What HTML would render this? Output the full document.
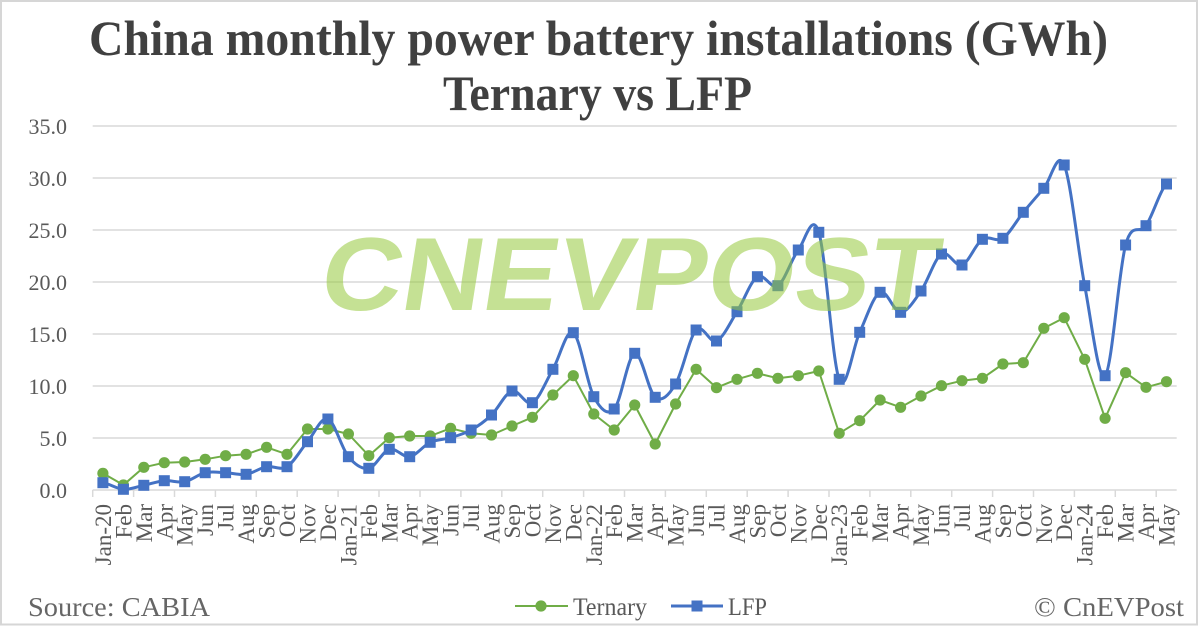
<!DOCTYPE html>
<html><head><meta charset="utf-8"><style>
html,body{margin:0;padding:0;background:#fff;}
svg{display:block;}
</style></head><body>
<svg width="1200" height="628" viewBox="0 0 1200 628" xmlns="http://www.w3.org/2000/svg">
<rect x="0" y="0" width="1200" height="628" fill="#fff"/>
<rect x="1" y="1" width="1196" height="623.5" fill="none" stroke="#d6d6d6" stroke-width="2"/>
<g font-family="'Liberation Serif', serif" font-weight="bold" fill="#404040" font-size="50">
<text x="89" y="55" textLength="1019" lengthAdjust="spacingAndGlyphs">China monthly power battery installations (GWh)</text>
<text x="443" y="110" textLength="309" lengthAdjust="spacingAndGlyphs">Ternary vs LFP</text>
</g>
<g stroke="#d9d9d9" stroke-width="1.5">
<line x1="92.7" y1="126" x2="1176.7" y2="126"/>
<line x1="92.7" y1="178" x2="1176.7" y2="178"/>
<line x1="92.7" y1="230" x2="1176.7" y2="230"/>
<line x1="92.7" y1="282" x2="1176.7" y2="282"/>
<line x1="92.7" y1="334" x2="1176.7" y2="334"/>
<line x1="92.7" y1="386" x2="1176.7" y2="386"/>
<line x1="92.7" y1="438" x2="1176.7" y2="438"/>
<line x1="92.7" y1="490" x2="1176.7" y2="490"/>
</g>
<g stroke="#d9d9d9" stroke-width="1.5">
<line x1="92.7" y1="490" x2="92.7" y2="497"/><line x1="133.6" y1="490" x2="133.6" y2="497"/><line x1="174.5" y1="490" x2="174.5" y2="497"/><line x1="215.4" y1="490" x2="215.4" y2="497"/><line x1="256.3" y1="490" x2="256.3" y2="497"/><line x1="297.2" y1="490" x2="297.2" y2="497"/><line x1="338.1" y1="490" x2="338.1" y2="497"/><line x1="379.0" y1="490" x2="379.0" y2="497"/><line x1="420.0" y1="490" x2="420.0" y2="497"/><line x1="460.9" y1="490" x2="460.9" y2="497"/><line x1="501.8" y1="490" x2="501.8" y2="497"/><line x1="542.7" y1="490" x2="542.7" y2="497"/><line x1="583.6" y1="490" x2="583.6" y2="497"/><line x1="624.5" y1="490" x2="624.5" y2="497"/><line x1="665.4" y1="490" x2="665.4" y2="497"/><line x1="706.3" y1="490" x2="706.3" y2="497"/><line x1="747.2" y1="490" x2="747.2" y2="497"/><line x1="788.1" y1="490" x2="788.1" y2="497"/><line x1="829.0" y1="490" x2="829.0" y2="497"/><line x1="869.9" y1="490" x2="869.9" y2="497"/><line x1="910.8" y1="490" x2="910.8" y2="497"/><line x1="951.7" y1="490" x2="951.7" y2="497"/><line x1="992.6" y1="490" x2="992.6" y2="497"/><line x1="1033.5" y1="490" x2="1033.5" y2="497"/><line x1="1074.4" y1="490" x2="1074.4" y2="497"/><line x1="1115.3" y1="490" x2="1115.3" y2="497"/><line x1="1156.2" y1="490" x2="1156.2" y2="497"/>
</g>
<g font-family="'Liberation Serif', serif" font-size="22" fill="#595959" text-anchor="end">
<text x="67" y="134">35.0</text>
<text x="67" y="186">30.0</text>
<text x="67" y="238">25.0</text>
<text x="67" y="290">20.0</text>
<text x="67" y="342">15.0</text>
<text x="67" y="394">10.0</text>
<text x="67" y="446">5.0</text>
<text x="67" y="498">0.0</text>
</g>
<g font-family="'Liberation Serif', serif" font-size="23" fill="#595959" text-anchor="end">
<text transform="translate(110.9,504) rotate(-90)">Jan-20</text>
<text transform="translate(131.4,504) rotate(-90)">Feb</text>
<text transform="translate(151.8,504) rotate(-90)">Mar</text>
<text transform="translate(172.3,504) rotate(-90)">Apr</text>
<text transform="translate(192.7,504) rotate(-90)">May</text>
<text transform="translate(213.2,504) rotate(-90)">Jun</text>
<text transform="translate(233.6,504) rotate(-90)">Jul</text>
<text transform="translate(254.1,504) rotate(-90)">Aug</text>
<text transform="translate(274.6,504) rotate(-90)">Sep</text>
<text transform="translate(295.0,504) rotate(-90)">Oct</text>
<text transform="translate(315.5,504) rotate(-90)">Nov</text>
<text transform="translate(335.9,504) rotate(-90)">Dec</text>
<text transform="translate(356.4,504) rotate(-90)">Jan-21</text>
<text transform="translate(376.8,504) rotate(-90)">Feb</text>
<text transform="translate(397.3,504) rotate(-90)">Mar</text>
<text transform="translate(417.7,504) rotate(-90)">Apr</text>
<text transform="translate(438.2,504) rotate(-90)">May</text>
<text transform="translate(458.6,504) rotate(-90)">Jun</text>
<text transform="translate(479.1,504) rotate(-90)">Jul</text>
<text transform="translate(499.5,504) rotate(-90)">Aug</text>
<text transform="translate(520.0,504) rotate(-90)">Sep</text>
<text transform="translate(540.4,504) rotate(-90)">Oct</text>
<text transform="translate(560.9,504) rotate(-90)">Nov</text>
<text transform="translate(581.3,504) rotate(-90)">Dec</text>
<text transform="translate(601.8,504) rotate(-90)">Jan-22</text>
<text transform="translate(622.2,504) rotate(-90)">Feb</text>
<text transform="translate(642.7,504) rotate(-90)">Mar</text>
<text transform="translate(663.2,504) rotate(-90)">Apr</text>
<text transform="translate(683.6,504) rotate(-90)">May</text>
<text transform="translate(704.1,504) rotate(-90)">Jun</text>
<text transform="translate(724.5,504) rotate(-90)">Jul</text>
<text transform="translate(745.0,504) rotate(-90)">Aug</text>
<text transform="translate(765.4,504) rotate(-90)">Sep</text>
<text transform="translate(785.9,504) rotate(-90)">Oct</text>
<text transform="translate(806.3,504) rotate(-90)">Nov</text>
<text transform="translate(826.8,504) rotate(-90)">Dec</text>
<text transform="translate(847.2,504) rotate(-90)">Jan-23</text>
<text transform="translate(867.7,504) rotate(-90)">Feb</text>
<text transform="translate(888.1,504) rotate(-90)">Mar</text>
<text transform="translate(908.6,504) rotate(-90)">Apr</text>
<text transform="translate(929.0,504) rotate(-90)">May</text>
<text transform="translate(949.5,504) rotate(-90)">Jun</text>
<text transform="translate(970.0,504) rotate(-90)">Jul</text>
<text transform="translate(990.4,504) rotate(-90)">Aug</text>
<text transform="translate(1010.9,504) rotate(-90)">Sep</text>
<text transform="translate(1031.3,504) rotate(-90)">Oct</text>
<text transform="translate(1051.8,504) rotate(-90)">Nov</text>
<text transform="translate(1072.2,504) rotate(-90)">Dec</text>
<text transform="translate(1092.7,504) rotate(-90)">Jan-24</text>
<text transform="translate(1113.1,504) rotate(-90)">Feb</text>
<text transform="translate(1133.6,504) rotate(-90)">Mar</text>
<text transform="translate(1154.0,504) rotate(-90)">Apr</text>
<text transform="translate(1174.5,504) rotate(-90)">May</text>
</g>
<!-- Ternary -->
<polyline fill="none" stroke="#70ad47" stroke-width="2" stroke-linejoin="round" points="102.9,473.3 123.4,485 143.8,467.3 164.3,462.7 184.7,462 205.2,459.3 225.6,455.7 246.1,454.3 266.6,447.3 287.0,454.3 307.5,429 327.9,429 348.4,434 368.8,455.7 389.3,437.7 409.7,436 430.2,436 450.6,428.3 471.1,433.3 491.5,435 512.0,426 532.4,417.3 552.9,395 573.3,375.7 593.8,414 614.2,430 634.7,405 655.2,444 675.6,404 696.1,369.3 716.5,387.7 737.0,379.3 757.4,373.3 777.9,378.3 798.3,375.7 818.8,371 839.2,433.3 859.7,420.7 880.1,400 900.6,407.3 921.0,396 941.5,385.7 962.0,380.7 982.4,378.3 1002.9,364 1023.3,362.7 1043.8,328.3 1064.2,317.7 1084.7,359.3 1105.1,418.3 1125.6,372.7 1146.0,387.3 1166.5,381.7"/>
<g fill="#70ad47">
<circle cx="102.9" cy="473.3" r="5.6"/><circle cx="123.4" cy="485" r="5.6"/><circle cx="143.8" cy="467.3" r="5.6"/><circle cx="164.3" cy="462.7" r="5.6"/><circle cx="184.7" cy="462" r="5.6"/><circle cx="205.2" cy="459.3" r="5.6"/><circle cx="225.6" cy="455.7" r="5.6"/><circle cx="246.1" cy="454.3" r="5.6"/><circle cx="266.6" cy="447.3" r="5.6"/><circle cx="287.0" cy="454.3" r="5.6"/><circle cx="307.5" cy="429" r="5.6"/><circle cx="327.9" cy="429" r="5.6"/><circle cx="348.4" cy="434" r="5.6"/><circle cx="368.8" cy="455.7" r="5.6"/><circle cx="389.3" cy="437.7" r="5.6"/><circle cx="409.7" cy="436" r="5.6"/><circle cx="430.2" cy="436" r="5.6"/><circle cx="450.6" cy="428.3" r="5.6"/><circle cx="471.1" cy="433.3" r="5.6"/><circle cx="491.5" cy="435" r="5.6"/><circle cx="512.0" cy="426" r="5.6"/><circle cx="532.4" cy="417.3" r="5.6"/><circle cx="552.9" cy="395" r="5.6"/><circle cx="573.3" cy="375.7" r="5.6"/><circle cx="593.8" cy="414" r="5.6"/><circle cx="614.2" cy="430" r="5.6"/><circle cx="634.7" cy="405" r="5.6"/><circle cx="655.2" cy="444" r="5.6"/><circle cx="675.6" cy="404" r="5.6"/><circle cx="696.1" cy="369.3" r="5.6"/><circle cx="716.5" cy="387.7" r="5.6"/><circle cx="737.0" cy="379.3" r="5.6"/><circle cx="757.4" cy="373.3" r="5.6"/><circle cx="777.9" cy="378.3" r="5.6"/><circle cx="798.3" cy="375.7" r="5.6"/><circle cx="818.8" cy="371" r="5.6"/><circle cx="839.2" cy="433.3" r="5.6"/><circle cx="859.7" cy="420.7" r="5.6"/><circle cx="880.1" cy="400" r="5.6"/><circle cx="900.6" cy="407.3" r="5.6"/><circle cx="921.0" cy="396" r="5.6"/><circle cx="941.5" cy="385.7" r="5.6"/><circle cx="962.0" cy="380.7" r="5.6"/><circle cx="982.4" cy="378.3" r="5.6"/><circle cx="1002.9" cy="364" r="5.6"/><circle cx="1023.3" cy="362.7" r="5.6"/><circle cx="1043.8" cy="328.3" r="5.6"/><circle cx="1064.2" cy="317.7" r="5.6"/><circle cx="1084.7" cy="359.3" r="5.6"/><circle cx="1105.1" cy="418.3" r="5.6"/><circle cx="1125.6" cy="372.7" r="5.6"/><circle cx="1146.0" cy="387.3" r="5.6"/><circle cx="1166.5" cy="381.7" r="5.6"/>
</g>
<!-- LFP (smoothed) -->
<path fill="none" stroke="#4472c4" stroke-width="3" stroke-linejoin="round" d="M102.9,482.7 C109.7,483.8 116.6,488.87 123.4,489.3 C130.2,489.73 137,486.73 143.8,485.3 C150.6,483.87 157.5,481.3 164.3,480.7 C171.1,480.1 177.9,483.03 184.7,481.7 C191.5,480.37 198.4,474.2 205.2,472.7 C212,471.2 218.8,472.43 225.6,472.7 C232.4,472.97 239.3,475.3 246.1,474.3 C252.9,473.3 259.8,467.97 266.6,466.7 C273.4,465.43 280.2,470.87 287,466.7 C293.8,462.53 300.7,449.65 307.5,441.7 C314.3,433.75 321.1,416.5 327.9,419 C334.7,421.5 341.6,448.48 348.4,456.7 C355.2,464.92 362,469.53 368.8,468.3 C375.6,467.07 382.5,451.23 389.3,449.3 C396.1,447.37 402.9,457.87 409.7,456.7 C416.5,455.53 423.4,445.47 430.2,442.3 C437,439.13 443.8,439.75 450.6,437.7 C457.4,435.65 464.3,433.78 471.1,430 C477.9,426.22 484.7,421.5 491.5,415 C498.3,408.5 505.2,393.05 512,391 C518.8,388.95 525.6,406.32 532.4,402.7 C539.2,399.08 546.1,380.97 552.9,369.3 C559.7,357.63 566.5,328.13 573.3,332.7 C580.1,337.27 587,383.98 593.8,396.7 C600.6,409.42 607.4,416.23 614.2,409 C621,401.77 627.9,355.25 634.7,353.3 C641.5,351.35 648.4,392.18 655.2,397.3 C662,402.42 668.8,395.22 675.6,384 C682.4,372.78 689.3,337.17 696.1,330 C702.9,322.83 709.7,344.05 716.5,341 C723.3,337.95 730.2,322.42 737,311.7 C743.8,300.98 750.6,281.03 757.4,276.7 C764.2,272.37 771.1,290.15 777.9,285.7 C784.7,281.25 791.5,258.9 798.3,250 C805.1,241.1 812,210.75 818.8,232.3 C825.6,253.85 832.4,362.63 839.2,379.3 C846,395.97 852.9,346.8 859.7,332.3 C866.5,317.8 873.3,295.63 880.1,292.3 C886.9,288.97 893.8,312.52 900.6,312.3 C907.4,312.08 914.2,300.72 921,291 C927.8,281.28 934.7,258.33 941.5,254 C948.3,249.67 955.2,267.45 962,265 C968.8,262.55 975.6,243.75 982.4,239.3 C989.2,234.85 996.1,242.8 1002.9,238.3 C1009.7,233.8 1016.5,220.63 1023.3,212.3 C1030.1,203.97 1037,196.18 1043.8,188.3 C1050.6,180.42 1057.4,148.77 1064.2,165 C1071,181.23 1077.9,250.58 1084.7,285.7 C1091.5,320.82 1098.3,382.48 1105.1,375.7 C1111.9,368.92 1118.8,270 1125.6,245 C1132.4,220 1139.2,235.87 1146,225.7 C1152.8,215.53 1159.7,190.95 1166.5,184"/>
<g fill="#4472c4">
<rect x="97.4" y="477.2" width="11" height="11"/><rect x="117.9" y="483.8" width="11" height="11"/><rect x="138.3" y="479.8" width="11" height="11"/><rect x="158.8" y="475.2" width="11" height="11"/><rect x="179.2" y="476.2" width="11" height="11"/><rect x="199.7" y="467.2" width="11" height="11"/><rect x="220.1" y="467.2" width="11" height="11"/><rect x="240.6" y="468.8" width="11" height="11"/><rect x="261.1" y="461.2" width="11" height="11"/><rect x="281.5" y="461.2" width="11" height="11"/><rect x="302.0" y="436.2" width="11" height="11"/><rect x="322.4" y="413.5" width="11" height="11"/><rect x="342.9" y="451.2" width="11" height="11"/><rect x="363.3" y="462.8" width="11" height="11"/><rect x="383.8" y="443.8" width="11" height="11"/><rect x="404.2" y="451.2" width="11" height="11"/><rect x="424.7" y="436.8" width="11" height="11"/><rect x="445.1" y="432.2" width="11" height="11"/><rect x="465.6" y="424.5" width="11" height="11"/><rect x="486.0" y="409.5" width="11" height="11"/><rect x="506.5" y="385.5" width="11" height="11"/><rect x="526.9" y="397.2" width="11" height="11"/><rect x="547.4" y="363.8" width="11" height="11"/><rect x="567.8" y="327.2" width="11" height="11"/><rect x="588.3" y="391.2" width="11" height="11"/><rect x="608.7" y="403.5" width="11" height="11"/><rect x="629.2" y="347.8" width="11" height="11"/><rect x="649.7" y="391.8" width="11" height="11"/><rect x="670.1" y="378.5" width="11" height="11"/><rect x="690.6" y="324.5" width="11" height="11"/><rect x="711.0" y="335.5" width="11" height="11"/><rect x="731.5" y="306.2" width="11" height="11"/><rect x="751.9" y="271.2" width="11" height="11"/><rect x="772.4" y="280.2" width="11" height="11"/><rect x="792.8" y="244.5" width="11" height="11"/><rect x="813.3" y="226.8" width="11" height="11"/><rect x="833.7" y="373.8" width="11" height="11"/><rect x="854.2" y="326.8" width="11" height="11"/><rect x="874.6" y="286.8" width="11" height="11"/><rect x="895.1" y="306.8" width="11" height="11"/><rect x="915.5" y="285.5" width="11" height="11"/><rect x="936.0" y="248.5" width="11" height="11"/><rect x="956.5" y="259.5" width="11" height="11"/><rect x="976.9" y="233.8" width="11" height="11"/><rect x="997.4" y="232.8" width="11" height="11"/><rect x="1017.8" y="206.8" width="11" height="11"/><rect x="1038.3" y="182.8" width="11" height="11"/><rect x="1058.7" y="159.5" width="11" height="11"/><rect x="1079.2" y="280.2" width="11" height="11"/><rect x="1099.6" y="370.2" width="11" height="11"/><rect x="1120.1" y="239.5" width="11" height="11"/><rect x="1140.5" y="220.2" width="11" height="11"/><rect x="1161.0" y="178.5" width="11" height="11"/>
</g>
<!-- watermark -->
<g transform="translate(307,310) skewX(-9)">
<text x="10" y="0" font-family="'Liberation Sans', sans-serif" font-weight="bold" font-size="104" fill="#96c83c" fill-opacity="0.55" textLength="617" lengthAdjust="spacingAndGlyphs">CNEVPOST</text>
</g>
<!-- footer -->
<text x="28" y="616" font-family="'Liberation Serif', serif" font-size="27" fill="#666666" textLength="182" lengthAdjust="spacingAndGlyphs">Source: CABIA</text>
<text x="1034" y="616" font-family="'Liberation Serif', serif" font-size="27" fill="#666666" textLength="150" lengthAdjust="spacingAndGlyphs">© CnEVPost</text>
<line x1="515" y1="606" x2="568" y2="606" stroke="#70ad47" stroke-width="2"/>
<circle cx="541" cy="606" r="5.6" fill="#70ad47"/>
<text x="573" y="615" font-family="'Liberation Serif', serif" font-size="25" fill="#595959" textLength="74" lengthAdjust="spacingAndGlyphs">Ternary</text>
<line x1="671" y1="606" x2="723" y2="606" stroke="#4472c4" stroke-width="3"/>
<rect x="691.5" y="600.5" width="11" height="11" fill="#4472c4"/>
<text x="728" y="615" font-family="'Liberation Serif', serif" font-size="25" fill="#595959" textLength="39" lengthAdjust="spacingAndGlyphs">LFP</text>
</svg>
</body></html>
